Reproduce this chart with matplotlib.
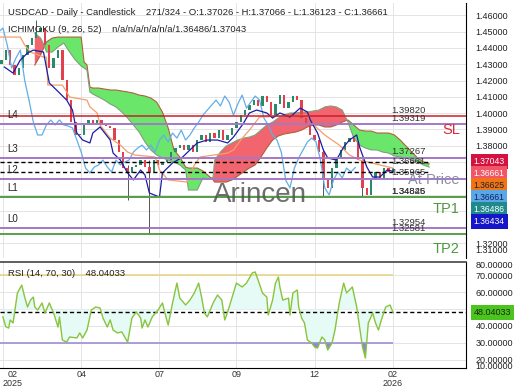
import matplotlib
matplotlib.use('Agg')
import matplotlib.pyplot as plt
import matplotlib.transforms as mtransforms
import numpy as np

plt.rcParams['font.family'] = ['Liberation Sans', 'DejaVu Sans']

# ---- price data (bar index, every 3rd bar) ----
close_bars = list(range(1, 272, 3))
closes = [1.4326, 1.4387, 1.4295, 1.4234, 1.4277, 1.4357, 1.4418, 1.4461, 1.4498, 1.4522,
          1.4418, 1.4277, 1.4338, 1.4387, 1.4203, 1.4080, 1.3945, 1.3866, 1.3866, 1.3927,
          1.3958, 1.3927, 1.3958, 1.3927, 1.3921, 1.3909, 1.3835, 1.3761, 1.3663, 1.3633,
          1.3669, 1.3682, 1.3712, 1.3669, 1.3639, 1.3712, 1.3682, 1.3700, 1.3712, 1.3761,
          1.3786, 1.3804, 1.3774, 1.3804, 1.3761, 1.3835, 1.3866, 1.3823, 1.3878, 1.3847,
          1.3896, 1.3835, 1.3866, 1.3909, 1.3945, 1.3988, 1.4019, 1.4050, 1.4080, 1.4044,
          1.4105, 1.4068, 1.3988, 1.4056, 1.4111, 1.4031, 1.4068, 1.4105, 1.4080, 1.3970,
          1.3927, 1.3866, 1.3835, 1.3761, 1.3590, 1.3541, 1.3663, 1.3725, 1.3774, 1.3823,
          1.3847, 1.3823, 1.3712, 1.3541, 1.3498, 1.3590, 1.3639, 1.3602, 1.3663, 1.3639,
          1.36661]
first_open = 1.4300

# long wicks visible on the chart
wick_bars = [25, 88, 103, 223, 250]
wick_lows = [1.4470, 1.3467, 1.3262, 1.3485, 1.3485]
wick_highs = [1.4570, 1.3680, 1.3712, 1.3780, 1.3720]

# ---- ichimoku lines ----
tenkan_bars = [3, 9, 14, 19, 23, 30, 34, 39, 46, 50, 53, 57, 62, 64, 69, 76, 78, 83, 88, 92,
               97, 100, 103, 110, 112, 119, 126, 136, 143, 150, 157, 161, 168, 172, 177, 184,
               188, 193, 200, 207, 212, 214, 219, 223, 226, 232, 237, 241, 246, 248, 253, 257,
               262, 267, 271]
tenkan = [1.4283, 1.4246, 1.4326, 1.4369, 1.4387, 1.4375, 1.4185, 1.4142, 1.4080, 1.4019,
          1.3878, 1.3835, 1.3817, 1.3878, 1.3915, 1.3835, 1.3755, 1.3712, 1.3633, 1.3590,
          1.3651, 1.3620, 1.3510, 1.3485, 1.3633, 1.3694, 1.3731, 1.3817, 1.3835, 1.3835,
          1.3817, 1.3853, 1.3939, 1.4001, 1.4019, 1.4001, 1.3970, 1.4001, 1.3976, 1.4031,
          1.4007, 1.3958, 1.3878, 1.3774, 1.3725, 1.3712, 1.3792, 1.3835, 1.3866, 1.3792,
          1.3669, 1.3608, 1.3608, 1.3651, 1.36434]

kijun_bars = [0, 14, 17, 21, 30, 32, 33, 43, 46, 48, 60, 62, 67, 69, 76, 83, 88, 93, 107, 110,
              116, 129, 134, 138, 157, 161, 166, 172, 179, 212, 215, 224, 234, 241, 248, 271]
kijun = [1.4467, 1.4467, 1.4418, 1.4375, 1.4344, 1.4344, 1.4172, 1.4172, 1.4130, 1.4099,
         1.4080, 1.4038, 1.4001, 1.3927, 1.3847, 1.3804, 1.3761, 1.3743, 1.3731, 1.3651,
         1.3590, 1.3577, 1.3682, 1.3731, 1.3755, 1.3774, 1.3835, 1.3896, 1.3976, 1.3988,
         1.3939, 1.3866, 1.3804, 1.3743, 1.3712, 1.36625]

cloud_bars = [24, 28, 31, 32, 36, 40, 44, 48, 52, 56, 58, 60, 62, 64, 68, 72, 76, 80, 84, 88,
              92, 96, 100, 104, 108, 112, 116, 120, 124, 128, 130, 136, 140, 144, 147, 148, 152,
              156, 160, 164, 168, 172, 176, 180, 184, 188, 192, 196, 200, 204, 208, 212, 216,
              220, 224, 228, 232, 236, 240, 244, 248, 252, 256, 260, 264, 268, 272, 276, 280,
              284, 288, 292, 296]
span_a = [1.4295, 1.4357, 1.4418, 1.4436, 1.4461, 1.4467, 1.4467, 1.4467, 1.4467, 1.4467,
          1.4314, 1.4295, 1.4160, 1.4154, 1.4154, 1.4148, 1.4142, 1.4142, 1.4136, 1.4130,
          1.4123, 1.4111, 1.4105, 1.4093, 1.4068, 1.4007, 1.3909, 1.3774, 1.3731, 1.3669,
          1.3663, 1.3663, 1.3645, 1.3614, 1.3590, 1.3577, 1.3577, 1.3577, 1.3590, 1.3614,
          1.3639, 1.3663, 1.3682, 1.3731, 1.3786, 1.3835, 1.3860, 1.3872, 1.3878, 1.3884,
          1.3896, 1.3915, 1.3927, 1.3927, 1.3915, 1.3915, 1.3927, 1.3945, 1.3958, 1.3927,
          1.3896, 1.3890, 1.3890, 1.3878, 1.3878, 1.3878, 1.3866, 1.3835, 1.3798, 1.3761,
          1.3725, 1.3700, 1.3688]
span_b = [1.4491, 1.4461, 1.4406, 1.4375, 1.4375, 1.4406, 1.4430, 1.4375, 1.4326, 1.4289,
          1.4277, 1.4264, 1.4130, 1.4117, 1.4099, 1.4080, 1.4056, 1.4038, 1.4007, 1.3970,
          1.3927, 1.3884, 1.3823, 1.3774, 1.3743, 1.3725, 1.3712, 1.3700, 1.3682, 1.3651,
          1.3528, 1.3528, 1.3602, 1.3596, 1.3608, 1.3712, 1.3761, 1.3798, 1.3817, 1.3835,
          1.3847, 1.3853, 1.3866, 1.3896, 1.3927, 1.3945, 1.3970, 1.3988, 1.4001, 1.4001,
          1.4007, 1.4007, 1.4013, 1.4019, 1.4038, 1.4044, 1.4038, 1.4019, 1.3945, 1.3847,
          1.3804, 1.3786, 1.3774, 1.3774, 1.3761, 1.3755, 1.3737, 1.3731, 1.3725, 1.3712,
          1.3700, 1.3682, 1.3669]
chikou_shift = 26

# ---- RSI ----
rsi_bars = [2, 4, 6, 7, 9, 10, 12, 15, 17, 19, 21, 23, 24, 26, 29, 31, 34, 37, 40, 41, 43, 46,
            48, 53, 55, 57, 60, 63, 66, 69, 71, 74, 76, 78, 81, 84, 86, 88, 91, 94, 97, 98, 100,
            102, 105, 109, 112, 115, 116, 119, 122, 124, 128, 131, 134, 137, 139, 141, 143,
            147, 150, 153, 155, 157, 161, 163, 167, 170, 174, 176, 178, 181, 184, 185, 188,
            190, 192, 193, 195, 199, 200, 202, 205, 206, 208, 210, 212, 215, 217, 219, 222,
            224, 226, 229, 231, 234, 237, 239, 241, 243, 246, 248, 250, 252, 254, 257, 259,
            261, 263, 266, 269, 271]
rsi_vals = [45.4, 39.5, 38.7, 43.5, 41.7, 47.6, 59.5, 64.2, 57.1, 51.2, 55.3, 57.1, 51.2, 49.4,
            53.6, 47.6, 53.6, 47.6, 39.3, 45.3, 31.6, 30.4, 33.4, 32.8, 35.8, 32.8, 37.5, 49.4,
            51.2, 50.6, 44.7, 39.3, 43.5, 37.5, 35.8, 36.4, 33.4, 30.3, 44.7, 48.2, 44.7, 38.7,
            43.5, 39.3, 45.3, 49.4, 53.6, 43.5, 40.5, 53.6, 65.4, 56.5, 52.4, 55.3, 59.5, 65.4,
            57.1, 47.6, 45.3, 53.6, 58.3, 55.3, 43.5, 48.2, 59.5, 65.4, 63.1, 65.4, 71.4, 72.0,
            67.2, 59.5, 57.1, 46.4, 55.3, 65.4, 69.0, 63.1, 55.3, 56.5, 46.4, 59.5, 61.3, 51.2,
            44.7, 41.7, 31.6, 29.8, 27.4, 26.8, 33.4, 31.6, 25.7, 29.8, 37.5, 53.6, 65.4, 59.5,
            61.3, 63.1, 51.2, 39.3, 27.4, 20.9, 41.7, 47.6, 41.7, 37.5, 43.5, 51.2, 52.4, 48.04033]
rsi_now = 48.04033

# ---- levels ----
sl_level = 1.39820
purple_levels = [1.39319, 1.37267, 1.35965, 1.34826, 1.32954]
level_names = ['L4', 'L3', 'L2', 'L1', 'L0']
tp_levels = [1.34845, 1.32581]
dashed_levels = [1.3700, 1.3640]
label_levels = [1.39820, 1.39319, 1.37267, 1.36661, 1.35965, 1.34826, 1.34845, 1.32954, 1.32581]

badge_texts = ['1.37043', '1.36661', '1.36625', '1.36661', '1.36486', '1.36434']
badge_colors = ['#d3123f', '#f25566', '#f07316', '#5aa7e6', '#1f8a8c', '#1616c8']
badge_fg = ['white', 'white', '#222222', '#10206a', 'white', 'white']

price_ticks = [1.32, 1.33, 1.34, 1.35, 1.36, 1.37, 1.38, 1.39, 1.40, 1.41, 1.42, 1.43, 1.44, 1.45, 1.46]
hidden_ticks = [1.33, 1.34, 1.35, 1.36, 1.37]   # sit under the price badges
rsi_ticks = [20, 30, 40, 50, 60, 70]

month_ticks = [2, 56, 110, 163, 217, 271]
month_labels = ['02\n2025', '04', '07', '09', '12', '02\n2026']

up_col = '#2b8a68'
down_col = '#e2404c'
grid_col = '#e4e4e4'

fig = plt.figure(figsize=(5.2, 3.9), dpi=100)
ax = fig.add_axes([0, 0.3385, 0.8962, 0.6538])
rax = fig.add_axes([0, 0.0564, 0.8962, 0.2718])

for a in (ax, rax):
    a.set_xlim(0, 321.4)
    a.set_xticks(month_ticks)
    a.grid(True, color=grid_col, lw=0.7, zorder=0)
    a.set_axisbelow(True)
    for s in ('top', 'left', 'bottom'):
        a.spines[s].set_visible(False)
    a.spines['right'].set_color('black')

ax.set_ylim(1.3111, 1.4676)
ax.set_yticks(price_ticks)
ax.set_yticklabels(['' if any(abs(v - h) < 1e-6 for h in hidden_ticks) else '%.5f' % v
                    for v in price_ticks])
ax.yaxis.tick_right()
ax.tick_params(axis='y', length=0, pad=7, labelsize=6.5, labelcolor='#222222')
ax.tick_params(axis='x', length=0, labelbottom=False)

# cloud
cb = np.array(cloud_bars)
sa = np.array(span_a)
sb = np.array(span_b)
ax.fill_between(cb, sa, sb, where=sa >= sb, interpolate=True, color='#6ae66a', lw=0, zorder=1)
ax.fill_between(cb, sa, sb, where=sa < sb, interpolate=True, color='#f2646e', lw=0, zorder=1)
ax.plot(cb, sa, color='#b0603c', lw=0.8, zorder=1.5)
ax.plot(cb, sb, color='#7fa07a', lw=0.8, zorder=1.5)

# candles
cl = np.array(closes)
op = np.array([first_open] + closes[:-1])
cols = [up_col if c >= o else down_col for o, c in zip(op, cl)]
ax.vlines(wick_bars, wick_lows, wick_highs, color='#555555', lw=0.7, zorder=2)
ax.bar(close_bars, np.maximum(np.abs(cl - op), 0.0003), bottom=np.minimum(op, cl),
       width=1.6, color=cols, zorder=2.2)

# ichimoku lines
ax.plot(np.array(close_bars) - chikou_shift, cl, color='#62aee6', lw=0.9, zorder=3)
ax.plot(kijun_bars, kijun, color='#f2a06a', lw=0.9, zorder=3)
ax.plot(tenkan_bars, tenkan, color='#1c1ca8', lw=0.9, zorder=3.1)

# levels
ax.axhline(sl_level, color='#c8202c', lw=1.1, zorder=4)
for lv in purple_levels:
    ax.axhline(lv, color='#a578c8', lw=1.4, zorder=4)
for lv in tp_levels:
    ax.axhline(lv, color='#58a04a', lw=1.4, zorder=4)
for lv in dashed_levels:
    ax.hlines(lv, 0, 295, color='black', lw=1.0, linestyles=(0, (3, 2)), zorder=4)

for lv in label_levels:
    ax.annotate('%.5f' % lv, xy=(270, lv), xytext=(0, 1), textcoords='offset points',
                fontsize=6.8, color='#333333', va='bottom', ha='left', zorder=5)

bt = mtransforms.blended_transform_factory(ax.transAxes, ax.transData)
for name, lv in zip(level_names, purple_levels):
    ax.annotate(name, xy=(0, lv), xycoords=bt, xytext=(5, 6.5), textcoords='offset points',
                fontsize=7, color='#222222', va='center', ha='left', zorder=5)

ax.annotate('SL', xy=(0.987, sl_level), xycoords=bt, xytext=(0, -10), textcoords='offset points',
            fontsize=10.5, color='#d6283c', va='center', ha='right', zorder=5)
ax.annotate('At Price', xy=(0.987, purple_levels[2]), xycoords=bt, xytext=(0, -1),
            textcoords='offset points', fontsize=10.5, color='#8c8ca8', va='center', ha='right', zorder=5)
ax.annotate('TP1', xy=(0.987, tp_levels[0]), xycoords=bt, xytext=(0, -8.4),
            textcoords='offset points', fontsize=10.5, color='#4e9a3e', va='center', ha='right', zorder=5)
ax.annotate('TP2', xy=(0.987, tp_levels[1]), xycoords=bt, xytext=(0, -10.8),
            textcoords='offset points', fontsize=10.5, color='#4e9a3e', va='center', ha='right',
            zorder=5, annotation_clip=False)

# price badges on the right axis
for i, (t, bc, fc) in enumerate(zip(badge_texts, badge_colors, badge_fg)):
    ax.annotate(t, xy=(1, 1.37043), xycoords=bt, xytext=(5.5, -i * 8.64), textcoords='offset points',
                fontsize=6.2, color=fc, va='center', ha='left', zorder=10, annotation_clip=False,
                bbox=dict(boxstyle='square,pad=0.32', fc=bc, ec='none'))
ax.annotate('1.31000', xy=(1, 1.3154), xycoords=bt, xytext=(7, 0), textcoords='offset points',
            fontsize=6.5, color='#222222', va='center', ha='left', annotation_clip=False)

fig.text(0.5, 0.482, 'Arincen', ha='center', va='baseline', fontsize=20, color='#555555', alpha=0.85)

# RSI panel
rax.set_ylim(14.99, 77.9)
rax.set_yticks(rsi_ticks)
rax.set_yticklabels(['' if v == 50 else '%.5f' % v for v in rsi_ticks])
rax.yaxis.tick_right()
rax.tick_params(axis='y', length=0, pad=7, labelsize=6.5, labelcolor='#222222')
rax.set_xticklabels(month_labels, linespacing=0.95)
rax.tick_params(axis='x', length=0, pad=1.5, labelsize=6.5, labelcolor='#333333')
xl = rax.get_xticklabels()
xl[0].set_ha('left')
xl[0].set_multialignment('center')
rax.spines['top'].set_visible(True)
rax.spines['top'].set_color('#444444')
rax.spines['top'].set_linewidth(1.2)
rax.spines['bottom'].set_visible(True)
rax.spines['bottom'].set_color('black')

rb = np.array(rsi_bars)
rv = np.array(rsi_vals)
rax.fill_between(rb, rv, 50, color='#e6faf6', lw=0, zorder=1)
rax.fill_between(rb, rv, 30, where=rv < 30, interpolate=True, color='#8f85dc', lw=0, zorder=2)
rax.hlines(70, 0, 271, color='#e8d48a', lw=1.2, zorder=2)
rax.hlines(30, 0, 271, color='#9d8fd6', lw=1.2, zorder=2)
rax.axhline(rsi_now, color='black', lw=1.0, ls=(0, (3, 2)), zorder=3)
rax.plot(rb, rv, color='#88c43c', lw=1.0, zorder=4)

rbt = mtransforms.blended_transform_factory(rax.transAxes, rax.transData)
rax.annotate('%.5f' % rsi_now, xy=(1, rsi_now), xycoords=rbt, xytext=(5.5, 0), textcoords='offset points',
             fontsize=6.5, color='#1a2a10', va='center', ha='left', zorder=10, annotation_clip=False,
             bbox=dict(boxstyle='square,pad=0.3', fc='#4cc41e', ec='none'))
for v, yv in [('80.00000', 75.7), ('10.00000', 15.6)]:
    rax.annotate(v, xy=(1, yv), xycoords=rbt, xytext=(7, 0), textcoords='offset points',
                 fontsize=6.5, color='#222222', va='center', ha='left', annotation_clip=False)

# header texts
fig.text(0.0154, 0.969, 'USDCAD - Daily - Candlestick    271/324 - O:1.37026 - H:1.37066 - L:1.36123 - C:1.36661',
         fontsize=6.8, color='#222222', va='center')
fig.text(0.0154, 0.9256, 'ICHIMOKU (9, 26, 52)    n/a/n/a/n/a/n/a/1.36486/1.37043',
         fontsize=6.8, color='#222222', va='center')
fig.text(0.0154, 0.300, 'RSI (14, 70, 30)    48.04033', fontsize=6.8, color='#222222', va='center')

fig.savefig('out.png', dpi=100)
